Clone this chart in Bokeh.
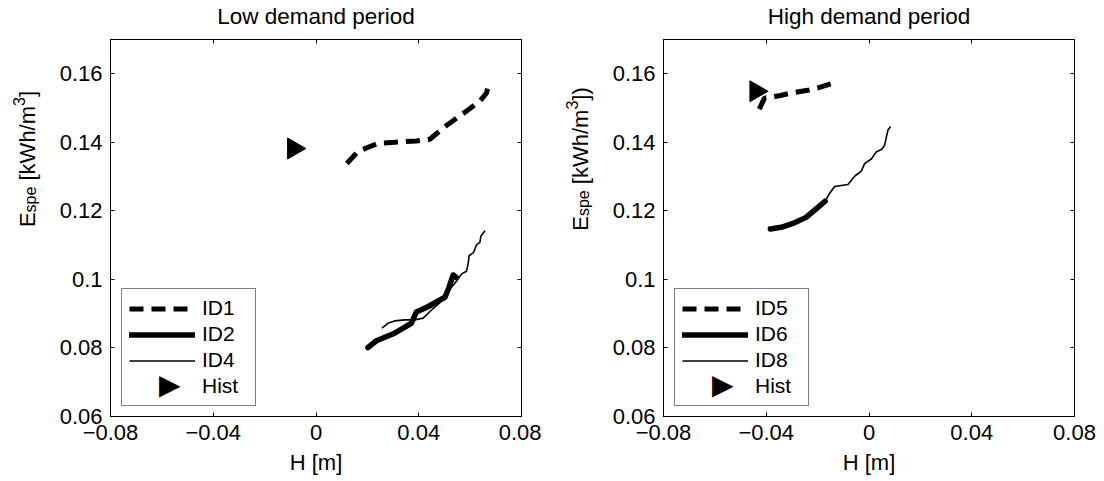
import math
from bokeh.plotting import figure
from bokeh.models import (LinearAxis, FixedTicker, Legend, LegendItem, Label,
                          Range1d)
from bokeh.layouts import row, column
from bokeh.embed import file_html
from bokeh.resources import INLINE
from bokeh.core.properties import value

# ---------------- data ----------------
titles = ["Low demand period", "High demand period"]
x_ticks = [-0.08, -0.04, 0, 0.04, 0.08]
x_tick_labels = ["\u22120.08", "\u22120.04", "0", "0.04", "0.08"]
y_ticks = [0.06, 0.08, 0.1, 0.12, 0.14, 0.16]
y_tick_labels = ["0.06", "0.08", "0.1", "0.12", "0.14", "0.16"]
x_label = "H [m]"

low_names = ["ID1", "ID2", "ID4", "Hist"]
high_names = ["ID5", "ID6", "ID8", "Hist"]

# Low demand period
low_id1_h = [0.0120, 0.0163, 0.0208, 0.0241, 0.0306, 0.0391, 0.0443, 0.0502, 0.0593, 0.0638, 0.0664, 0.0674]
low_id1_e = [0.1338, 0.1373, 0.1387, 0.1397, 0.1400, 0.1404, 0.1409, 0.1446, 0.1495, 0.1520, 0.1544, 0.1578]
low_id2_h = [0.0202, 0.0235, 0.0306, 0.0371, 0.0391, 0.0437, 0.0502, 0.0517, 0.0534, 0.0547]
low_id2_e = [0.0801, 0.0821, 0.0843, 0.0872, 0.0905, 0.0921, 0.0948, 0.0975, 0.1013, 0.1005]
low_id4_h = [0.0257, 0.0280, 0.0306, 0.0345, 0.0384, 0.0417, 0.0456, 0.0495, 0.0521, 0.0547,
             0.0567, 0.0586, 0.0593, 0.0596, 0.0613, 0.0625, 0.0638, 0.0642, 0.0658]
low_id4_e = [0.0858, 0.0872, 0.0879, 0.0882, 0.0882, 0.0887, 0.0915, 0.0941, 0.0971, 0.0995,
             0.1016, 0.1024, 0.1049, 0.1069, 0.1078, 0.1101, 0.1108, 0.1127, 0.1142]
low_hist_h = [-0.0087]
low_hist_e = [0.1382]

# High demand period
high_id5_h = [-0.0427, -0.0407, -0.0349, -0.0303, -0.0238, -0.0199, -0.0128]
high_id5_e = [0.1497, 0.1529, 0.1536, 0.1544, 0.1552, 0.1559, 0.1575]
high_id6_h = [-0.0384, -0.0342, -0.0290, -0.0245, -0.0199, -0.0171]
high_id6_e = [0.1147, 0.1152, 0.1165, 0.1181, 0.1210, 0.1228]
high_id8_h = [-0.0384, -0.0342, -0.0290, -0.0245, -0.0199, -0.0171, -0.0154, -0.0134, -0.0108,
              -0.0082, -0.0056, -0.0030, -0.0017, 0.0010, 0.0028, 0.0050, 0.0061, 0.0066, 0.0074, 0.0084]
high_id8_e = [0.1147, 0.1152, 0.1165, 0.1181, 0.1210, 0.1228, 0.1250, 0.1271, 0.1274,
              0.1277, 0.1301, 0.1316, 0.1338, 0.1352, 0.1372, 0.1380, 0.1392, 0.1410, 0.1436, 0.1446]
high_hist_h = [-0.0440]
high_hist_e = [0.1549]

# ---------------- style ----------------
FONT = "Liberation Sans"
FS = 22
LFS = 21
SUB = 16
ARIAL_W = {"E": .667, "s": .5, "p": .556, "e": .556, " ": .278, "[": .278, "k": .5,
           "W": .944, "h": .556, "/": .278, "m": .833, "3": .556, "]": .278, ")": .333}
BAND_H = 34          # title band height
TOP = 5              # top border of the plots below the title band
FRAME_W = 411
FRAME_H = 377
BOTTOM = 65
PANEL_H = TOP + FRAME_H + BOTTOM
W_LAB1, W_P1_LEFT, W_P1_RIGHT = 45, 65, 20
W_LAB2, W_P2_LEFT, W_P2_RIGHT = 58, 64, 30
TOTAL_W = W_LAB1 + W_P1_LEFT + FRAME_W + W_P1_RIGHT + W_LAB2 + W_P2_LEFT + FRAME_W + W_P2_RIGHT


def text_w(t, size):
    return sum(ARIAL_W.get(c, .556) for c in t) * size


def blank_fig(width, height):
    f = figure(width=width, height=height, min_border=0, min_border_left=0,
               min_border_right=0, min_border_top=0, min_border_bottom=0,
               x_axis_type=None, y_axis_type=None, x_range=Range1d(0, 1),
               y_range=Range1d(0, 1), output_backend="svg", toolbar_location=None)
    f.outline_line_color = None
    f.background_fill_color = "white"
    f.border_fill_color = "white"
    return f


def style_axis(ax, ticks, labels, show_labels=True):
    ax.ticker = FixedTicker(ticks=ticks)
    ax.minor_tick_in = 0
    ax.minor_tick_out = 0
    ax.major_tick_in = 4
    ax.major_tick_out = 0
    ax.axis_line_color = "black"
    ax.major_tick_line_color = "black"
    if show_labels:
        ax.major_label_overrides = {t: l for t, l in zip(ticks, labels)}
        ax.major_label_text_font = FONT
        ax.major_label_text_font_size = f"{FS}px"
        ax.major_label_text_color = "black"
    else:
        ax.major_label_text_font_size = "0px"
        ax.major_label_text_color = None
        ax.major_label_standoff = 0


def make_ylabel_fig(width, baseline_x, pieces):
    """Narrow blank figure holding the rotated y label (with sub/superscript)."""
    f = blank_fig(width, PANEL_H)
    total = sum(text_w(t, s) for t, s, _ in pieces)
    y = BOTTOM + FRAME_H / 2 + 4 - total / 2
    for t, s, shift in pieces:
        if t.strip():
            f.add_layout(Label(x=baseline_x + shift, y=y, x_units="screen", y_units="screen",
                               text=t, angle=math.pi / 2, text_font=FONT,
                               text_font_size=f"{s}px", text_align="left",
                               text_baseline="alphabetic", text_color="black"))
        y += text_w(t, s)
    return f


def make_title_band():
    f = blank_fig(TOTAL_W, BAND_H)
    c1 = W_LAB1 + W_P1_LEFT + FRAME_W / 2
    c2 = W_LAB1 + W_P1_LEFT + FRAME_W + W_P1_RIGHT + W_LAB2 + W_P2_LEFT + FRAME_W / 2
    for t, cx in zip(titles, [c1, c2]):
        f.add_layout(Label(x=cx, y=BAND_H - 16, x_units="screen", y_units="screen",
                           text=t, text_font=FONT, text_font_size="22.5px",
                           text_align="center", text_baseline="alphabetic",
                           text_color="black"))
    return f


def make_panel(series, hist, names, min_left, min_right):
    p = figure(frame_width=FRAME_W, frame_height=FRAME_H,
               min_border_left=min_left, min_border_right=min_right,
               min_border_top=TOP, min_border_bottom=BOTTOM,
               x_range=Range1d(-0.08, 0.08), y_range=Range1d(0.06, 0.17),
               output_backend="svg", toolbar_location=None)
    p.xgrid.visible = False
    p.ygrid.visible = False
    p.outline_line_color = "black"
    p.outline_line_alpha = 1
    p.background_fill_color = "white"
    p.border_fill_color = "white"

    style_axis(p.xaxis[0], x_ticks, x_tick_labels)
    style_axis(p.yaxis[0], y_ticks, y_tick_labels)
    p.xaxis[0].major_label_standoff = 8
    p.yaxis[0].major_label_standoff = 8
    p.xaxis[0].axis_label = x_label
    p.xaxis[0].axis_label_text_font = FONT
    p.xaxis[0].axis_label_text_font_size = f"{FS}px"
    p.xaxis[0].axis_label_text_font_style = "normal"
    p.xaxis[0].axis_label_text_color = "black"
    p.xaxis[0].axis_label_standoff = 7

    top = LinearAxis()
    style_axis(top, x_ticks, x_tick_labels, show_labels=False)
    p.add_layout(top, "above")
    right = LinearAxis()
    style_axis(right, y_ticks, y_tick_labels, show_labels=False)
    p.add_layout(right, "right")

    (h1, e1), (h2, e2), (h3, e3) = series
    r1 = p.line(h1, e1, line_color="black", line_width=5, line_dash="14 8")
    r2 = p.line(h2, e2, line_color="black", line_width=5.5, line_join="round", line_cap="round")
    r3 = p.line(h3, e3, line_color="black", line_width=1.6)
    p.scatter(hist[0], hist[1], marker="triangle", size=21, angle=-math.pi / 2,
              fill_color="black", line_color="black")
    # blank renderer used only as a legend glyph slot for the Hist entry
    r_blank = p.line([], [], line_alpha=0)

    legA = Legend(items=[LegendItem(label=names[0], renderers=[r1]),
                         LegendItem(label=names[1], renderers=[r2]),
                         LegendItem(label=names[2], renderers=[r3]),
                         LegendItem(label=names[3], renderers=[r_blank])],
                  location=(11, 10), padding=7, spacing=2,
                  glyph_width=66, glyph_height=23, label_height=23, label_width=46,
                  label_standoff=7, margin=0,
                  label_text_font=FONT, label_text_font_size=f"{LFS}px",
                  label_text_color="black",
                  border_line_color="black", border_line_width=1.2,
                  background_fill_color="white", background_fill_alpha=1)
    p.add_layout(legA)
    # right-pointing triangle symbol for the Hist legend entry
    legB = Legend(items=[LegendItem(label=value("\u25B6"), renderers=[r_blank])],
                  location=(48, 15), padding=0, spacing=0,
                  glyph_width=1, glyph_height=10, label_height=10, label_width=10,
                  label_standoff=0, margin=0,
                  label_text_font="DejaVu Sans", label_text_font_size="28px",
                  label_text_color="black",
                  border_line_color=None, background_fill_alpha=0)
    p.add_layout(legB)
    return p


ylab_low = [("E", FS, 0), ("spe", SUB, 3), (" ", FS, 0), ("[kWh/m", FS, 0), ("3", SUB, -9), ("]", FS, 0)]
ylab_high = [("E", FS, 0), ("spe", SUB, 3), (" ", FS, 0), ("[kWh/m", FS, 0), ("3", SUB, -9), ("])", FS, 0)]

band = make_title_band()
lab1 = make_ylabel_fig(W_LAB1, 27, ylab_low)
p1 = make_panel([(low_id1_h, low_id1_e), (low_id2_h, low_id2_e), (low_id4_h, low_id4_e)],
                (low_hist_h, low_hist_e), low_names, W_P1_LEFT, W_P1_RIGHT)
lab2 = make_ylabel_fig(W_LAB2, 580 - (W_LAB1 + W_P1_LEFT + FRAME_W + W_P1_RIGHT), ylab_high)
p2 = make_panel([(high_id5_h, high_id5_e), (high_id6_h, high_id6_e), (high_id8_h, high_id8_e)],
                (high_hist_h, high_hist_e), high_names, W_P2_LEFT, W_P2_RIGHT)

layout = column(band, row(lab1, p1, lab2, p2))
open("out.html", "w").write(file_html(layout, INLINE))
